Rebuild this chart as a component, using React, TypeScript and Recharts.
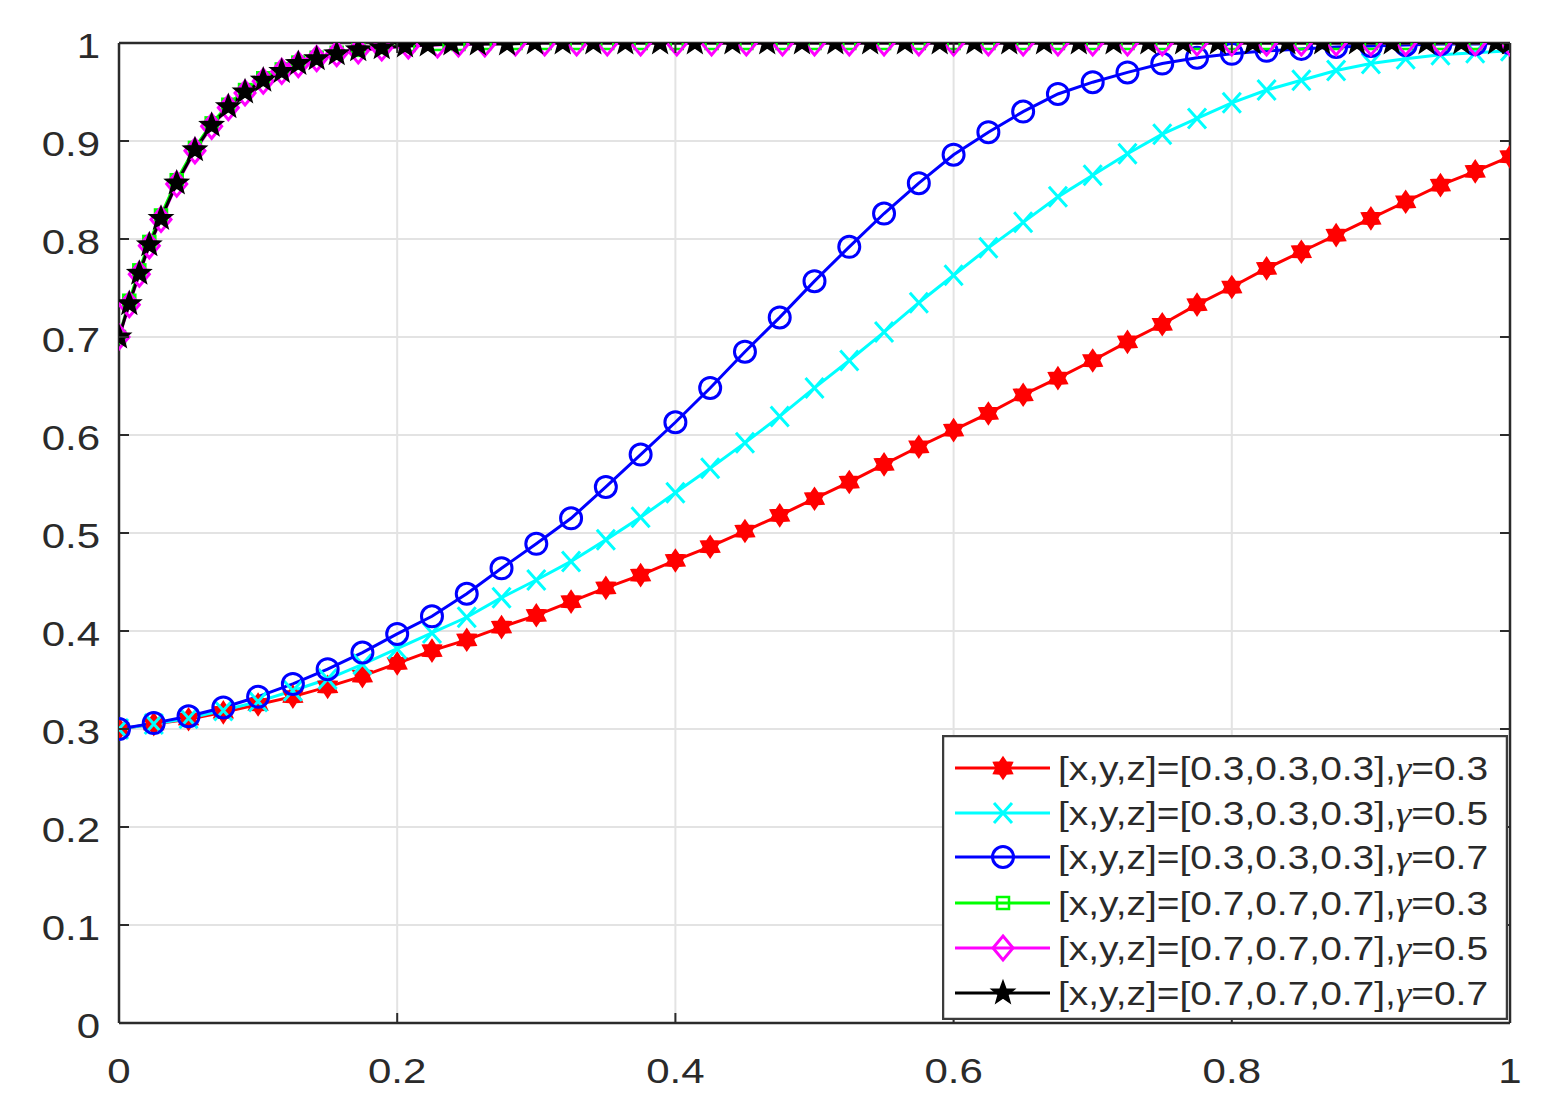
import React from "react";
import {
  LineChart,
  Line,
  XAxis,
  YAxis,
  CartesianGrid,
  ReferenceLine,
  Legend,
} from "recharts";

// x samples used by the three [0.3,0.3,0.3] curves
const gridX = [
  0, 0.025, 0.05, 0.075, 0.1, 0.125, 0.15, 0.175, 0.2, 0.225, 0.25, 0.275,
  0.3, 0.325, 0.35, 0.375, 0.4, 0.425, 0.45, 0.475, 0.5, 0.525, 0.55, 0.575,
  0.6, 0.625, 0.65, 0.675, 0.7, 0.725, 0.75, 0.775, 0.8, 0.825, 0.85, 0.875,
  0.9, 0.925, 0.95, 0.975, 1,
];

const red03 = [
  0.3, 0.305, 0.31, 0.317, 0.325, 0.333, 0.343, 0.354, 0.367, 0.38, 0.391,
  0.404, 0.416, 0.43, 0.444, 0.457, 0.472, 0.486, 0.502, 0.518, 0.535, 0.552,
  0.57, 0.588, 0.605, 0.622, 0.641, 0.658, 0.676, 0.695, 0.713, 0.733, 0.751,
  0.77, 0.787, 0.804, 0.821, 0.838, 0.855, 0.869, 0.884,
];

const cyan05 = [
  0.3, 0.305, 0.311, 0.319, 0.328, 0.339, 0.351, 0.366, 0.382, 0.398, 0.414,
  0.434, 0.452, 0.471, 0.493, 0.516, 0.541, 0.566, 0.592, 0.619, 0.648, 0.676,
  0.705, 0.735, 0.763, 0.791, 0.817, 0.843, 0.865, 0.887, 0.907, 0.923, 0.939,
  0.952, 0.962, 0.972, 0.979, 0.984, 0.988, 0.99, 0.992,
];

const blue07 = [
  0.3, 0.306, 0.313, 0.322, 0.333, 0.346, 0.361, 0.378, 0.397, 0.415, 0.438,
  0.464, 0.489, 0.515, 0.547, 0.58, 0.613, 0.648, 0.685, 0.72, 0.757, 0.792,
  0.826, 0.857, 0.886, 0.909, 0.93, 0.948, 0.96, 0.97, 0.979, 0.985, 0.989,
  0.992, 0.994, 0.996, 0.997, 0.998, 0.999, 0.999, 1,
];

// [0.7,0.7,0.7] curves have their own (adaptive) x steps
const green03: [number, number][] = [
  [0, 0.7], [0.0074, 0.737], [0.0146, 0.768], [0.0218, 0.797], [0.0302, 0.824],
  [0.0415, 0.86], [0.0546, 0.893], [0.0666, 0.918], [0.0786, 0.937],
  [0.0906, 0.952], [0.1037, 0.964], [0.117, 0.973], [0.1289, 0.98],
  [0.1421, 0.985], [0.1565, 0.99], [0.172, 0.993], [0.1889, 0.996],
  [0.208, 0.998], [0.229, 0.999], [0.244, 0.999], [0.263, 1], [0.285, 1],
  [0.306, 1], [0.329, 1], [0.351, 1], [0.375, 1], [0.401, 1], [0.426, 1],
  [0.451, 1], [0.477, 1], [0.5, 1], [0.525, 1], [0.55, 1], [0.575, 1],
  [0.6, 1], [0.625, 1], [0.65, 1], [0.675, 1], [0.7, 1], [0.725, 1],
  [0.75, 1], [0.775, 1], [0.8, 1], [0.825, 1], [0.85, 1], [0.875, 1],
  [0.9, 1], [0.925, 1], [0.95, 1], [0.975, 1], [1, 1],
];

const magenta05: [number, number][] = [
  [0, 0.7], [0.0074, 0.733], [0.0146, 0.764], [0.0218, 0.793], [0.0302, 0.82],
  [0.0415, 0.856], [0.0546, 0.89], [0.0666, 0.915], [0.0786, 0.934],
  [0.0906, 0.949], [0.1037, 0.961], [0.117, 0.971], [0.1289, 0.978],
  [0.1421, 0.984], [0.1565, 0.989], [0.172, 0.992], [0.1889, 0.995],
  [0.208, 0.997], [0.229, 0.998], [0.244, 0.999], [0.263, 0.999], [0.285, 1],
  [0.306, 1], [0.329, 1], [0.351, 1], [0.375, 1], [0.401, 1], [0.426, 1],
  [0.451, 1], [0.477, 1], [0.5, 1], [0.525, 1], [0.55, 1], [0.575, 1],
  [0.6, 1], [0.625, 1], [0.65, 1], [0.675, 1], [0.7, 1], [0.725, 1],
  [0.75, 1], [0.775, 1], [0.8, 1], [0.825, 1], [0.85, 1], [0.875, 1],
  [0.9, 1], [0.925, 1], [0.95, 1], [0.975, 1], [1, 1],
];

const black07: [number, number][] = [
  [0, 0.7], [0.0074, 0.734], [0.0146, 0.765], [0.0218, 0.794], [0.0302, 0.821],
  [0.0415, 0.857], [0.0546, 0.891], [0.0666, 0.916], [0.0786, 0.935],
  [0.0906, 0.95], [0.1037, 0.962], [0.117, 0.971], [0.1289, 0.979],
  [0.1421, 0.984], [0.1565, 0.989], [0.172, 0.993], [0.1889, 0.995],
  [0.2056, 0.997], [0.222, 0.998], [0.239, 0.999], [0.258, 0.999],
  [0.279, 0.999], [0.299, 1], [0.319, 1], [0.341, 1], [0.364, 1], [0.389, 1],
  [0.414, 1], [0.441, 1], [0.466, 1], [0.491, 1], [0.515, 1], [0.54, 1],
  [0.565, 1], [0.59, 1], [0.615, 1], [0.64, 1], [0.665, 1], [0.69, 1],
  [0.715, 1], [0.74, 1], [0.765, 1], [0.79, 1], [0.815, 1], [0.84, 1],
  [0.865, 1], [0.89, 1], [0.915, 1], [0.94, 1], [0.965, 1], [0.99, 1], [1, 1],
];

const xTicks = [0, 0.2, 0.4, 0.6, 0.8, 1];
const yTicks = [0, 0.1, 0.2, 0.3, 0.4, 0.5, 0.6, 0.7, 0.8, 0.9, 1];

const legendStates = [
  "[x,y,z]=[0.3,0.3,0.3],",
  "[x,y,z]=[0.3,0.3,0.3],",
  "[x,y,z]=[0.3,0.3,0.3],",
  "[x,y,z]=[0.7,0.7,0.7],",
  "[x,y,z]=[0.7,0.7,0.7],",
  "[x,y,z]=[0.7,0.7,0.7],",
];
const legendGammas = ["0.3", "0.5", "0.7", "0.3", "0.5", "0.7"];

const fromGrid = (vals: number[]) => gridX.map((x, i) => ({ x, y: vals[i] }));
const fromPairs = (pts: [number, number][]) => pts.map(([x, y]) => ({ x, y }));

const series = [
  { key: "r", color: "#ff0000", shape: "hexagram", data: fromGrid(red03) },
  { key: "c", color: "#00ffff", shape: "x", data: fromGrid(cyan05) },
  { key: "b", color: "#0000ff", shape: "circle", data: fromGrid(blue07) },
  { key: "g", color: "#00ff00", shape: "square", data: fromPairs(green03) },
  { key: "m", color: "#ff00ff", shape: "diamond", data: fromPairs(magenta05) },
  { key: "k", color: "#000000", shape: "pentagram", data: fromPairs(black07) },
];

// plot box edges (px), matching the chart margins below
const LEFT = 119;
const RIGHT = 1510;
const TOP = 43;
const BOTTOM = 1023;
const AXIS = "#2b2b2b";
const TEXT = "#2a2a2a";
const FONT = "'Liberation Sans', Arial, sans-serif";

const starPoints = (cx: number, cy: number, n: number, ro: number, ri: number) => {
  const pts: string[] = [];
  for (let i = 0; i < 2 * n; i++) {
    const r = i % 2 === 0 ? ro : ri;
    const a = -Math.PI / 2 + (i * Math.PI) / n;
    pts.push(`${cx + r * Math.cos(a)},${cy + r * Math.sin(a)}`);
  }
  return pts.join(" ");
};

const Marker = ({ shape, cx, cy, color }: any) => {
  switch (shape) {
    case "hexagram":
      return <polygon points={starPoints(cx, cy, 6, 10.5, 6.5)} fill={color} stroke={color} strokeWidth={2} />;
    case "x":
      return (
        <path
          d={`M${cx - 9},${cy - 10}L${cx + 9},${cy + 10}M${cx - 9},${cy + 10}L${cx + 9},${cy - 10}`}
          stroke={color}
          strokeWidth={3}
          fill="none"
        />
      );
    case "circle":
      return <circle cx={cx} cy={cy} r={10.5} fill="none" stroke={color} strokeWidth={3} />;
    case "square":
      return <rect x={cx - 6} y={cy - 6} width={12} height={12} fill="none" stroke={color} strokeWidth={2.5} />;
    case "diamond":
      return (
        <polygon
          points={`${cx},${cy - 12} ${cx + 10},${cy} ${cx},${cy + 12} ${cx - 10},${cy}`}
          fill="none"
          stroke={color}
          strokeWidth={3}
        />
      );
    default:
      return <polygon points={starPoints(cx, cy, 5, 12, 5)} fill={color} stroke={color} strokeWidth={1.5} />;
  }
};

const YTick = (props: any) => {
  const { y, payload } = props;
  return (
    <g>
      <line x1={LEFT} x2={LEFT + 10} y1={y} y2={y} stroke={AXIS} strokeWidth={2} />
      <line x1={RIGHT - 10} x2={RIGHT} y1={y} y2={y} stroke={AXIS} strokeWidth={2} />
      <text
        transform={`translate(${LEFT - 19},${y + 15}) scale(1.2,1)`}
        textAnchor="end"
        fontFamily={FONT}
        fontSize={35}
        fill={TEXT}
      >
        {String(payload.value)}
      </text>
    </g>
  );
};

const XTick = (props: any) => {
  const { x, payload } = props;
  return (
    <g>
      <line x1={x} x2={x} y1={BOTTOM} y2={BOTTOM - 10} stroke={AXIS} strokeWidth={2} />
      <line x1={x} x2={x} y1={TOP} y2={TOP + 10} stroke={AXIS} strokeWidth={2} />
      <text
        transform={`translate(${x},${BOTTOM + 60}) scale(1.2,1)`}
        textAnchor="middle"
        fontFamily={FONT}
        fontSize={35}
        fill={TEXT}
      >
        {String(payload.value)}
      </text>
    </g>
  );
};

const rowY = [33, 78, 122, 168, 213, 258];

const LegendBox = () => (
  <svg width={566} height={285} style={{ display: "block" }}>
    <rect x={1} y={1} width={564} height={283} fill="#ffffff" stroke="#3c3c3c" strokeWidth={2.5} />
    {series.map((s, i) => (
      <g key={s.key}>
        <line x1={13} x2={108} y1={rowY[i]} y2={rowY[i]} stroke={s.color} strokeWidth={3} />
        <Marker shape={s.shape} cx={61} cy={rowY[i]} color={s.color} />
        <text
          transform={`translate(116,${rowY[i] + 12}) scale(1.18,1)`}
          fontFamily={FONT}
          fontSize={33}
          fill={TEXT}
        >
          {legendStates[i]}
          <tspan fontFamily="'Liberation Serif', 'Times New Roman', serif" fontStyle="italic">
            γ
          </tspan>
          {"=" + legendGammas[i]}
        </text>
      </g>
    ))}
  </svg>
);

const App = () => {
  return (
    <div style={{ position: "absolute", left: 0, top: 0, background: "#fff" }}>
      <LineChart
        width={1548}
        height={1093}
        margin={{ top: TOP, right: 1548 - RIGHT, bottom: 0, left: 0 }}
      >
        <CartesianGrid stroke="#e3e3e3" strokeWidth={2} />
        <XAxis
          dataKey="x"
          type="number"
          domain={[0, 1]}
          ticks={xTicks}
          height={1093 - BOTTOM}
          tickLine={false}
          axisLine={{ stroke: AXIS, strokeWidth: 2.5 }}
          tick={<XTick />}
          allowDataOverflow
        />
        <YAxis
          type="number"
          domain={[0, 1]}
          ticks={yTicks}
          width={LEFT}
          tickLine={false}
          axisLine={{ stroke: AXIS, strokeWidth: 2.5 }}
          tick={<YTick />}
          allowDataOverflow
        />
        <ReferenceLine y={1} stroke={AXIS} strokeWidth={2.5} />
        <ReferenceLine x={1} stroke={AXIS} strokeWidth={2.5} />
        {series.map((s) => (
          <Line
            key={s.key}
            data={s.data}
            dataKey="y"
            type="linear"
            stroke={s.color}
            strokeWidth={3}
            isAnimationActive={false}
            dot={(p: any) => (
              <Marker key={`${s.key}-${p.index}`} shape={s.shape} cx={p.cx} cy={p.cy} color={s.color} />
            )}
            activeDot={false}
          />
        ))}
        <Legend
          layout="horizontal"
          align="center"
          verticalAlign="middle"
          wrapperStyle={{ left: 942, top: 735, width: 566, height: 285 }}
          content={() => <LegendBox />}
        />
      </LineChart>
    </div>
  );
};

export default App;
